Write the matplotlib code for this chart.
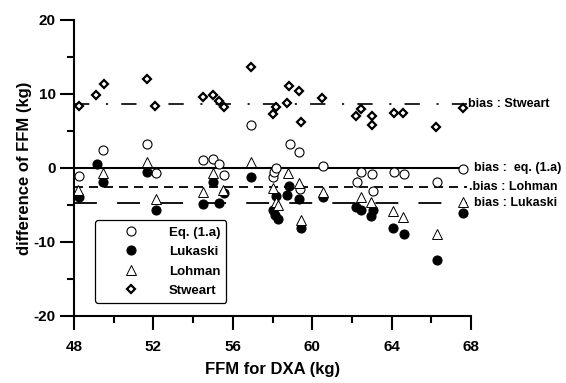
import matplotlib
matplotlib.use("Agg")
import matplotlib.pyplot as plt
from matplotlib.ticker import MultipleLocator

plt.rcParams['font.family'] = ['Liberation Sans', 'DejaVu Sans']
plt.rcParams['font.weight'] = 'bold'
plt.rcParams['lines.scale_dashes'] = False
plt.rcParams['axes.unicode_minus'] = False

# Eq. (1.a)
eq_x = [48.27, 49.48, 51.7, 52.13, 54.5, 55.0, 55.3, 55.55, 56.9, 58.0, 58.08, 58.2,
        58.88, 59.35, 59.4, 60.53, 62.24, 62.44, 63.0, 63.08, 64.1, 64.6, 66.27, 67.6]
eq_y = [-1.1, 2.4, 3.3, -0.7, 1.05, 1.15, 0.5, -0.95, 5.8, -1.2, -0.6, -0.05,
        3.2, 2.1, -2.9, 0.27, -1.85, -0.5, -0.85, -3.1, -0.6, -0.85, -1.85, -0.2]

# Lukaski
luk_x = [48.27, 49.14, 49.48, 51.7, 52.13, 54.51, 54.98, 55.32, 55.56, 56.9, 58.0, 58.13,
         58.3, 58.18, 58.75, 58.85, 59.32, 59.42, 60.53, 62.2, 62.44, 63.05, 62.95, 64.09,
         64.62, 66.27, 67.61]
luk_y = [-3.9, 0.55, -1.95, -0.6, -5.7, -4.85, -1.85, -4.75, -3.35, -1.25, -5.7, -6.35,
         -6.9, -3.8, -3.65, -2.5, -4.25, -8.1, -3.95, -5.3, -5.7, -5.7, -6.5, -8.15,
         -8.9, -12.4, -6.1]

# Lohman
loh_x = [48.22, 49.44, 51.7, 52.13, 54.51, 54.98, 55.5, 56.9, 58.05, 58.18, 58.3, 58.8,
         59.35, 59.45, 60.56, 62.44, 62.95, 64.09, 64.59, 66.27, 67.61]
loh_y = [-3.0, -0.75, 0.85, -4.2, -3.25, -0.72, -3.0, 0.85, -2.75, -4.6, -5.0, -0.63,
         -2.0, -7.0, -3.3, -3.9, -4.55, -5.8, -6.65, -8.95, -4.55]

# Stweart
stw_x = [48.27, 49.1, 49.5, 51.7, 52.1, 54.5, 55.0, 55.3, 55.55, 56.9, 58.05, 58.2,
         58.75, 58.85, 59.33, 59.42, 60.5, 62.2, 62.45, 63.0, 63.0, 64.1, 64.55, 66.25, 67.6]
stw_y = [8.4, 9.9, 11.4, 12.0, 8.4, 9.55, 9.85, 9.1, 8.2, 13.6, 7.3, 8.2,
         8.8, 11.1, 10.4, 6.2, 9.5, 7.0, 7.9, 7.0, 5.8, 7.45, 7.4, 5.5, 8.1]

# bias lines
bias_eq = 0.0
bias_loh = -2.6
bias_luk = -4.7
bias_stw = 8.7
bias_x = [48, 67.8]

fig = plt.figure(figsize=(5.66, 3.83), dpi=100)
ax = fig.add_axes([0.1307, 0.175, 0.7015, 0.773])

ax.plot(bias_x, [bias_eq] * 2, color='black', lw=1.5, zorder=1)
ax.plot(bias_x, [bias_loh] * 2, color='black', lw=1.3, dashes=(6.5, 4.3), zorder=1)
ax.plot(bias_x, [bias_luk] * 2, color='black', lw=1.3, dashes=(16.5, 14.5), zorder=1)
ax.plot(bias_x, [bias_stw] * 2, color='black', lw=1.2, dashes=(11, 12, 1.5, 9.5), zorder=1)

ax.plot(eq_x, eq_y, 'o', ms=6.5, mfc='white', mec='black', mew=0.8, ls='none', label='Eq. (1.a)')
ax.plot(luk_x, luk_y, 'o', ms=6.5, mfc='black', mec='black', mew=0.8, ls='none', label='Lukaski')
ax.plot(loh_x, loh_y, '^', ms=6.5, mfc='white', mec='black', mew=0.7, ls='none', label='Lohman')
ax.plot(stw_x, stw_y, 'D', ms=4.3, mfc='white', mec='black', mew=1.6, ls='none', label='Stweart')

ax.text(67.85, bias_stw, 'bias : Stweart', fontsize=9, va='center', ha='left', clip_on=False)
ax.text(68.15, bias_eq, 'bias :  eq. (1.a)', fontsize=9, va='center', ha='left', clip_on=False)
ax.text(67.9, bias_loh, '.bias : Lohman', fontsize=9, va='center', ha='left', clip_on=False)
ax.text(68.15, bias_luk, 'bias : Lukaski', fontsize=9, va='center', ha='left', clip_on=False)

ax.set_xlim(48, 68)
ax.set_ylim(-20, 20)
ax.xaxis.set_major_locator(MultipleLocator(4))
ax.xaxis.set_minor_locator(MultipleLocator(2))
ax.yaxis.set_major_locator(MultipleLocator(10))
ax.yaxis.set_minor_locator(MultipleLocator(5))

for s in ['top', 'right']:
    ax.spines[s].set_visible(False)
for s in ['left', 'bottom']:
    ax.spines[s].set_linewidth(1.5)

ax.tick_params(which='major', direction='out', length=10, width=1.5, labelsize=11)
ax.tick_params(axis='x', which='major', pad=7)
ax.tick_params(axis='y', which='major', pad=3)
ax.tick_params(which='minor', direction='out', length=5, width=1.5)

ax.set_xlabel('FFM for DXA (kg)', fontsize=12, fontweight='bold', labelpad=6)
ax.set_ylabel('difference of FFM (kg)', fontsize=12, fontweight='bold', labelpad=1)

leg = ax.legend(loc='lower left', bbox_to_anchor=(0.053, 0.044), borderaxespad=0,
                fontsize=9.5, fancybox=True, edgecolor='black', framealpha=1,
                handlelength=4.6, handletextpad=0.55, labelspacing=0.55, borderpad=0.45)
leg.get_frame().set_linewidth(0.9)

fig.savefig('out.png', dpi=100)
